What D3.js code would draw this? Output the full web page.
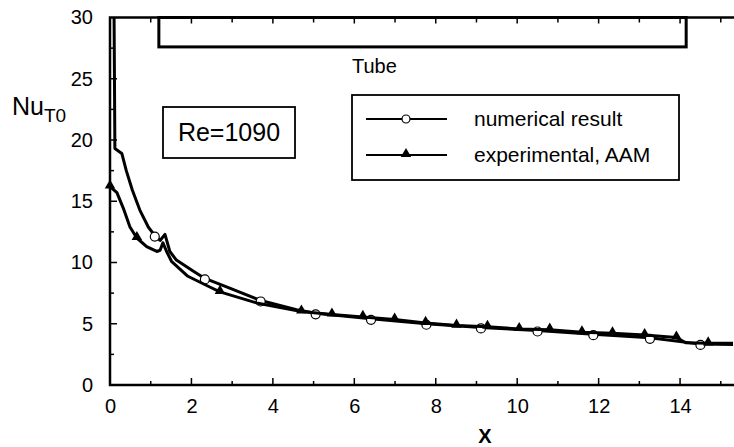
<!DOCTYPE html>
<html>
<head>
<meta charset="utf-8">
<script src="https://cdn.jsdelivr.net/npm/d3@7"></script>
<style>
  html, body { margin: 0; padding: 0; background: #fff; }
  svg { display: block; font-family: "Liberation Sans", Arial, Helvetica, sans-serif; }
</style>
</head>
<body>
<svg id="chart" width="734" height="447"></svg>
<script>
// Local Nusselt number along the tube, Re = 1090
const numX = [0.1, 0.12, 0.29, 0.4, 0.55, 0.73, 0.94, 1.1, 1.23, 1.35, 1.47, 1.63, 2.04, 2.33, 2.94, 3.7, 4.58, 5.05, 6.41, 7.77, 9.11, 10.5, 11.87, 13.26, 14.1, 14.5, 15.3];
const numY = [30, 19.3, 18.9, 17.5, 15.9, 14.3, 12.9, 12.2, 11.8, 12.3, 10.9, 10.2, 9.3, 8.7, 7.9, 6.9, 6.15, 5.85, 5.4, 5.0, 4.7, 4.45, 4.15, 3.85, 3.5, 3.35, 3.3];
const numMarkX = [1.1, 2.33, 3.7, 5.05, 6.41, 7.77, 9.11, 10.5, 11.87, 13.26, 14.5];
const numMarkY = [12.2, 8.7, 6.9, 5.85, 5.4, 5.0, 4.7, 4.45, 4.15, 3.85, 3.35];

const expX = [0.0, 0.17, 0.33, 0.49, 0.66, 0.9, 1.15, 1.23, 1.3, 1.39, 1.51, 1.9, 2.45, 2.7, 3.6, 4.7, 5.45, 6.21, 6.99, 7.75, 8.51, 9.27, 10.05, 10.8, 11.59, 12.34, 13.13, 13.91, 14.14, 14.69, 15.3];
const expY = [16.2, 15.7, 14.4, 12.9, 12.0, 11.3, 10.9, 11.0, 11.6, 10.9, 10.1, 8.9, 8.0, 7.6, 6.7, 6.0, 5.75, 5.56, 5.34, 5.07, 4.85, 4.75, 4.57, 4.52, 4.30, 4.22, 4.08, 3.88, 3.45, 3.4, 3.4];
const expMarkX = [0, 0.66, 2.7, 4.7, 5.45, 6.21, 6.99, 7.75, 8.51, 9.27, 10.05, 10.8, 11.59, 12.34, 13.13, 13.91, 14.69];
const expMarkY = [16.2, 12.0, 7.6, 6.0, 5.75, 5.56, 5.34, 5.07, 4.85, 4.75, 4.57, 4.52, 4.30, 4.22, 4.08, 3.88, 3.4];

const xTickLabels = [0, 2, 4, 6, 8, 10, 12, 14];
const yTickLabels = [0, 5, 10, 15, 20, 25, 30];
const seriesNames = ["numerical result", "experimental, AAM"];

// Tube section extent (in X units) and its drawn band height
const tubeStart = 1.2, tubeEnd = 14.15, tubeBottom = 27.6;

const svg = d3.select("#chart");
const padL = 110, padR = 733, padT = 17.5, padB = 385;

const x = d3.scaleLinear().domain([0, 15.3]).range([padL, padR]);
const y = d3.scaleLinear().domain([0, 30]).range([padB, padT]);

const ink = "#000";

// Minor / major ticks
const xMinor = d3.range(1, 16, 1);
const yMinor = d3.range(2.5, 30, 2.5);

// Bottom axis (ticks pointing up)
const bAxis = d3.axisBottom(x).tickValues(xTickLabels).tickSize(0).tickPadding(14).tickFormat(d3.format("d"));
const gb = svg.append("g").attr("transform", `translate(0,${padB})`).call(bAxis);
gb.select(".domain").remove();
gb.selectAll("text").attr("font-size", 20).attr("fill", ink).attr("font-family", "Liberation Sans, Arial, sans-serif");

svg.append("g").selectAll("line").data(xMinor).join("line")
  .attr("x1", d => x(d)).attr("x2", d => x(d))
  .attr("y1", padB).attr("y2", d => padB - (d % 2 === 0 ? 7 : 4))
  .attr("stroke", ink).attr("stroke-width", 1.5);

// Top axis ticks (pointing down)
svg.append("g").selectAll("line").data(xMinor).join("line")
  .attr("x1", d => x(d)).attr("x2", d => x(d))
  .attr("y1", padT).attr("y2", d => padT + (d % 2 === 0 ? 6 : 5))
  .attr("stroke", ink).attr("stroke-width", 1.5);

// Left axis (ticks pointing right)
const lAxis = d3.axisLeft(y).tickValues(yTickLabels).tickSize(0).tickPadding(17).tickFormat(d3.format("d"));
const gl = svg.append("g").attr("transform", `translate(${padL},0)`).call(lAxis);
gl.select(".domain").remove();
gl.selectAll("text").attr("font-size", 20).attr("fill", ink).attr("font-family", "Liberation Sans, Arial, sans-serif");

svg.append("g").selectAll("line").data(yMinor).join("line")
  .attr("x1", padL).attr("x2", d => padL + (d % 5 === 0 ? 7 : 4))
  .attr("y1", d => y(d)).attr("y2", d => y(d))
  .attr("stroke", ink).attr("stroke-width", 1.5);

// Frame lines: left, bottom, top
svg.append("path")
  .attr("d", `M${padR + 1},${y(30)} H${padL} V${padB} H${padR + 1}`)
  .attr("fill", "none").attr("stroke", ink).attr("stroke-width", 2.5);

// Tube section band
svg.append("rect")
  .attr("x", x(tubeStart)).attr("y", y(30))
  .attr("width", x(tubeEnd) - x(tubeStart)).attr("height", y(tubeBottom) - y(30))
  .attr("fill", "none").attr("stroke", ink).attr("stroke-width", 3);

svg.append("text").attr("x", 352).attr("y", 73).attr("font-size", 20).text("Tube");

// Y axis title
const yt = svg.append("text").attr("x", 12).attr("y", 115).attr("font-size", 25).attr("fill", ink);
yt.append("tspan").text("Nu");
yt.append("tspan").attr("dy", 7).attr("font-size", 19).text("T0");

// X axis title
svg.append("text").attr("x", 485).attr("y", 443).attr("text-anchor", "middle")
  .attr("font-size", 20).attr("font-weight", "bold").text("X");

// Reynolds number box
svg.append("rect").attr("x", 163).attr("y", 107).attr("width", 132).attr("height", 51)
  .attr("fill", "#fff").attr("stroke", ink).attr("stroke-width", 1.8);
svg.append("text").attr("x", 229).attr("y", 141).attr("text-anchor", "middle")
  .attr("font-size", 25).text("Re=1090");

// Curves
const line = d3.line().x(d => x(d[0])).y(d => y(d[1]));
const numPts = numX.map((v, i) => [v, numY[i]]);
const expPts = expX.map((v, i) => [v, expY[i]]);

const plot = svg.append("g");
plot.append("path").datum(numPts).attr("d", line)
  .attr("fill", "none").attr("stroke", ink).attr("stroke-width", 3).attr("stroke-linejoin", "round");

plot.selectAll("circle.num").data(numMarkX.map((v, i) => [v, numMarkY[i]])).join("circle")
  .attr("class", "num").attr("cx", d => x(d[0])).attr("cy", d => y(d[1]) + 1).attr("r", 4.5)
  .attr("fill", "#fff").attr("stroke", ink).attr("stroke-width", 1.2);

plot.append("path").datum(expPts).attr("d", line)
  .attr("fill", "none").attr("stroke", ink).attr("stroke-width", 3).attr("stroke-linejoin", "round");

const tri = d3.symbol().type(d3.symbolTriangle).size(48);
plot.selectAll("path.exp").data(expMarkX.map((v, i) => [v, expMarkY[i]])).join("path")
  .attr("class", "exp").attr("d", tri)
  .attr("transform", d => `translate(${x(d[0])},${y(d[1]) - 1})`)
  .attr("fill", ink);

// Legend
const lg = svg.append("g");
lg.append("rect").attr("x", 352).attr("y", 95).attr("width", 327).attr("height", 85)
  .attr("fill", "#fff").attr("stroke", ink).attr("stroke-width", 1.8);
const rows = [119, 155];
rows.forEach((ry, i) => {
  lg.append("line").attr("x1", 366).attr("x2", 447).attr("y1", ry).attr("y2", ry)
    .attr("stroke", ink).attr("stroke-width", 1.8);
  if (i === 0) {
    lg.append("circle").attr("cx", 406).attr("cy", ry).attr("r", 4)
      .attr("fill", "#fff").attr("stroke", ink).attr("stroke-width", 1.2);
  } else {
    lg.append("path").attr("d", tri).attr("transform", `translate(406,${ry - 1})`).attr("fill", ink);
  }
  lg.append("text").attr("x", 474).attr("y", ry + 7).attr("font-size", 21).text(seriesNames[i]);
});
</script>
</body>
</html>
